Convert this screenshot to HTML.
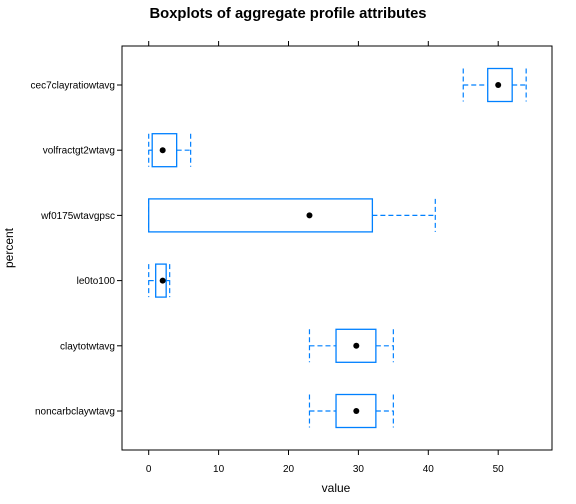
<!DOCTYPE html>
<html><head><meta charset="utf-8"><style>body{margin:0;background:#fff}svg{display:block;font-family:"Liberation Sans",Arial,sans-serif}</style></head>
<body>
<svg id="c" width="576" height="504">
<text x="288" y="18" text-anchor="middle" font-size="14.8" font-weight="bold">Boxplots of aggregate profile attributes</text>
<rect x="122" y="46" width="430" height="404" fill="none" stroke="#000" stroke-width="1"/>
<text x="336" y="492" text-anchor="middle" font-size="12">value</text>
<text transform="translate(13,248) rotate(-90)" text-anchor="middle" font-size="12">percent</text>
<g id="g"></g>
</svg>
<script>
const categories=["cec7clayratiowtavg","volfractgt2wtavg","wf0175wtavgpsc","le0to100","claytotwtavg","noncarbclaywtavg"];
const lowWhisker=[45,0,0,0,23,23];
const q1=[48.5,0.5,0,1,26.8,26.8];
const medians=[50,2,23,2,29.7,29.7];
const q3=[52,4,32,2.5,32.5,32.5];
const highWhisker=[54,6,41,3,35,35];
const xTicks=[0,10,20,30,40,50];
const NS="http://www.w3.org/2000/svg";
const g=document.getElementById('g');
const x=v=>148.7+v*6.99;
const y=i=>85+i*65.2;
function mk(t,a){const e=document.createElementNS(NS,t);for(const k in a)e.setAttribute(k,a[k]);g.appendChild(e);return e;}
const blue="#0080ff";
xTicks.forEach(t=>{
 let e=mk('line',{x1:x(t),x2:x(t),y1:450,y2:455,stroke:'#000'});
 
 
 e=mk('line',{x1:x(t),x2:x(t),y1:41,y2:46,stroke:'#000'});
 
 
 e=mk('text',{x:x(t),y:472,'text-anchor':'middle','font-size':'10'});e.textContent=t;
 
 
});
categories.forEach((c,i)=>{
 const cy=y(i),h=16.5;
 let e=mk('line',{x1:117,x2:122,y1:cy,y2:cy,stroke:'#000'});
 
 
 e=mk('text',{x:115,y:cy+3.5,'text-anchor':'end','font-size':'10'});e.textContent=c;
 
 
 const d={stroke:blue,'stroke-dasharray':'5,3','stroke-width':1.2};
 e=mk('line',Object.assign({x1:x(lowWhisker[i]),x2:x(q1[i]),y1:cy,y2:cy},d));
 
 
 e=mk('line',Object.assign({x1:x(q3[i]),x2:x(highWhisker[i]),y1:cy,y2:cy},d));
 
 
 e=mk('line',Object.assign({x1:x(lowWhisker[i]),x2:x(lowWhisker[i]),y1:cy-h,y2:cy+h},d));
 
 
 e=mk('line',Object.assign({x1:x(highWhisker[i]),x2:x(highWhisker[i]),y1:cy-h,y2:cy+h},d));
 
 
 e=mk('rect',{x:x(q1[i]),y:cy-h,width:x(q3[i])-x(q1[i]),height:2*h,fill:'#fff',stroke:blue,'stroke-width':1.3});
 
 
 e=mk('circle',{cx:x(medians[i]),cy:cy,r:3,fill:'#000'});
 
 
});
</script>
</body></html>
